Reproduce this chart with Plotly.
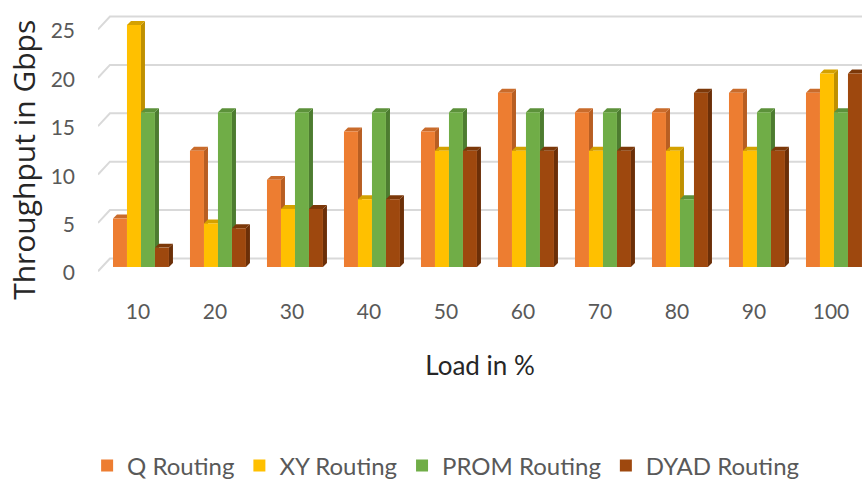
import plotly.graph_objects as go

# ---- data -------------------------------------------------------------
loads = [10, 20, 30, 40, 50, 60, 70, 80, 90, 100]
q_routing = [5, 12, 9, 14, 14, 18, 16, 16, 18, 18]
xy_routing = [25, 4.5, 6, 7, 12, 12, 12, 12, 12, 20]
prom_routing = [16, 16, 16, 16, 16, 16, 16, 7, 16, 16]
dyad_routing = [2, 4, 6, 7, 12, 12, 12, 18, 12, 20]
y_ticks = [0, 5, 10, 15, 20, 25]
tick_labels = [str(v) for v in loads]

# name, values, front colour, side colour, top colour
series = [
    ("Q Routing", q_routing, "#ED7D31", "#B85E22", "#C96B2B"),
    ("XY Routing", xy_routing, "#FFC000", "#BF9000", "#D4A100"),
    ("PROM Routing", prom_routing, "#70AD47", "#4D7C30", "#5C913A"),
    ("DYAD Routing", dyad_routing, "#9E480E", "#6B2F08", "#7C3809"),
]

# ---- pseudo-3D geometry (axis units) ---------------------------------
X_RANGE = [4.42, 103.64]
Y_RANGE = [-0.83, 27.07]
GROUP_W = 7.27            # width of one cluster of four columns
BAR_W = GROUP_W / 4
DX, DY = 0.52, 0.41       # depth offset of column side / top faces
BACK_DY = 0.88            # back wall lies slightly above the column fronts
FRONT_DY = -0.45          # front edge of the side wall
WALL_BACK_X = 5.97

UI_FONT = "Lato, Open Sans, sans-serif"
GREY = "#595959"

fig = go.Figure()
shapes = []

# back-wall gridlines with the short slanted run along the side wall
for t in y_ticks:
    shapes.append(dict(
        type="path", xref="x", yref="y", layer="below",
        path=(f"M{X_RANGE[0]},{t + FRONT_DY} L{WALL_BACK_X},{t + BACK_DY} "
              f"L{X_RANGE[1]},{t + BACK_DY}"),
        line=dict(color="#D9D9D9", width=2),
    ))

side_shapes, top_shapes = [], []
for k, (name, vals, front, side, top) in enumerate(series):
    offset = -GROUP_W / 2 + k * BAR_W
    for x, v in zip(loads, vals):
        left = x + offset
        right = left + BAR_W
        side_shapes.append(dict(
            type="path", xref="x", yref="y", layer="below",
            path=(f"M{right},0 L{right + DX},{DY} L{right + DX},{v + DY} "
                  f"L{right},{v} Z"),
            fillcolor=side, line=dict(width=0),
        ))
        top_shapes.append(dict(
            type="path", xref="x", yref="y", layer="below",
            path=(f"M{left},{v} L{right},{v} L{right + DX},{v + DY} "
                  f"L{left + DX},{v + DY} Z"),
            fillcolor=top, line=dict(width=0),
        ))
    fig.add_trace(go.Bar(
        x=loads, y=vals, name=name,
        width=BAR_W, offset=offset,
        marker=dict(color=front, line=dict(width=0)),
    ))

shapes += side_shapes + top_shapes

fig.update_layout(
    width=862, height=481,
    margin=dict(l=98, r=0, t=5, b=206, autoexpand=False),
    paper_bgcolor="white", plot_bgcolor="white",
    barmode="overlay",
    shapes=shapes,
    showlegend=True,
    legend=dict(
        orientation="h", x=0.455, xanchor="center", y=-0.707, yanchor="middle",
        font=dict(family=UI_FONT, size=24, color=GREY),
        bgcolor="rgba(0,0,0,0)", traceorder="normal",
    ),
    xaxis=dict(
        range=X_RANGE, tickmode="array", tickvals=loads, ticktext=tick_labels,
        showgrid=False, zeroline=False, showline=False, ticks="",
        automargin=False,
        ticklabelstandoff=22, ticklabelshift=-3,
        tickfont=dict(family=UI_FONT, size=21, color=GREY),
        title=dict(text="Load in %", standoff=34,
                   font=dict(family=UI_FONT, size=26, color="#262626")),
    ),
    yaxis=dict(
        range=Y_RANGE, tickmode="array", tickvals=y_ticks,
        showgrid=False, zeroline=False, showline=False, ticks="",
        automargin=False,
        ticklabelstandoff=22, ticklabelshift=6,
        tickfont=dict(family=UI_FONT, size=21, color=GREY),
    ),
    annotations=[dict(
        text="Throughput in Gbps", textangle=-90, showarrow=False,
        xref="paper", yref="paper", x=-0.097, y=0.426,
        xanchor="center", yanchor="middle",
        font=dict(family="Open Sans, sans-serif", size=30, color="#262626"),
    )],
)

fig.write_html("out.html")
